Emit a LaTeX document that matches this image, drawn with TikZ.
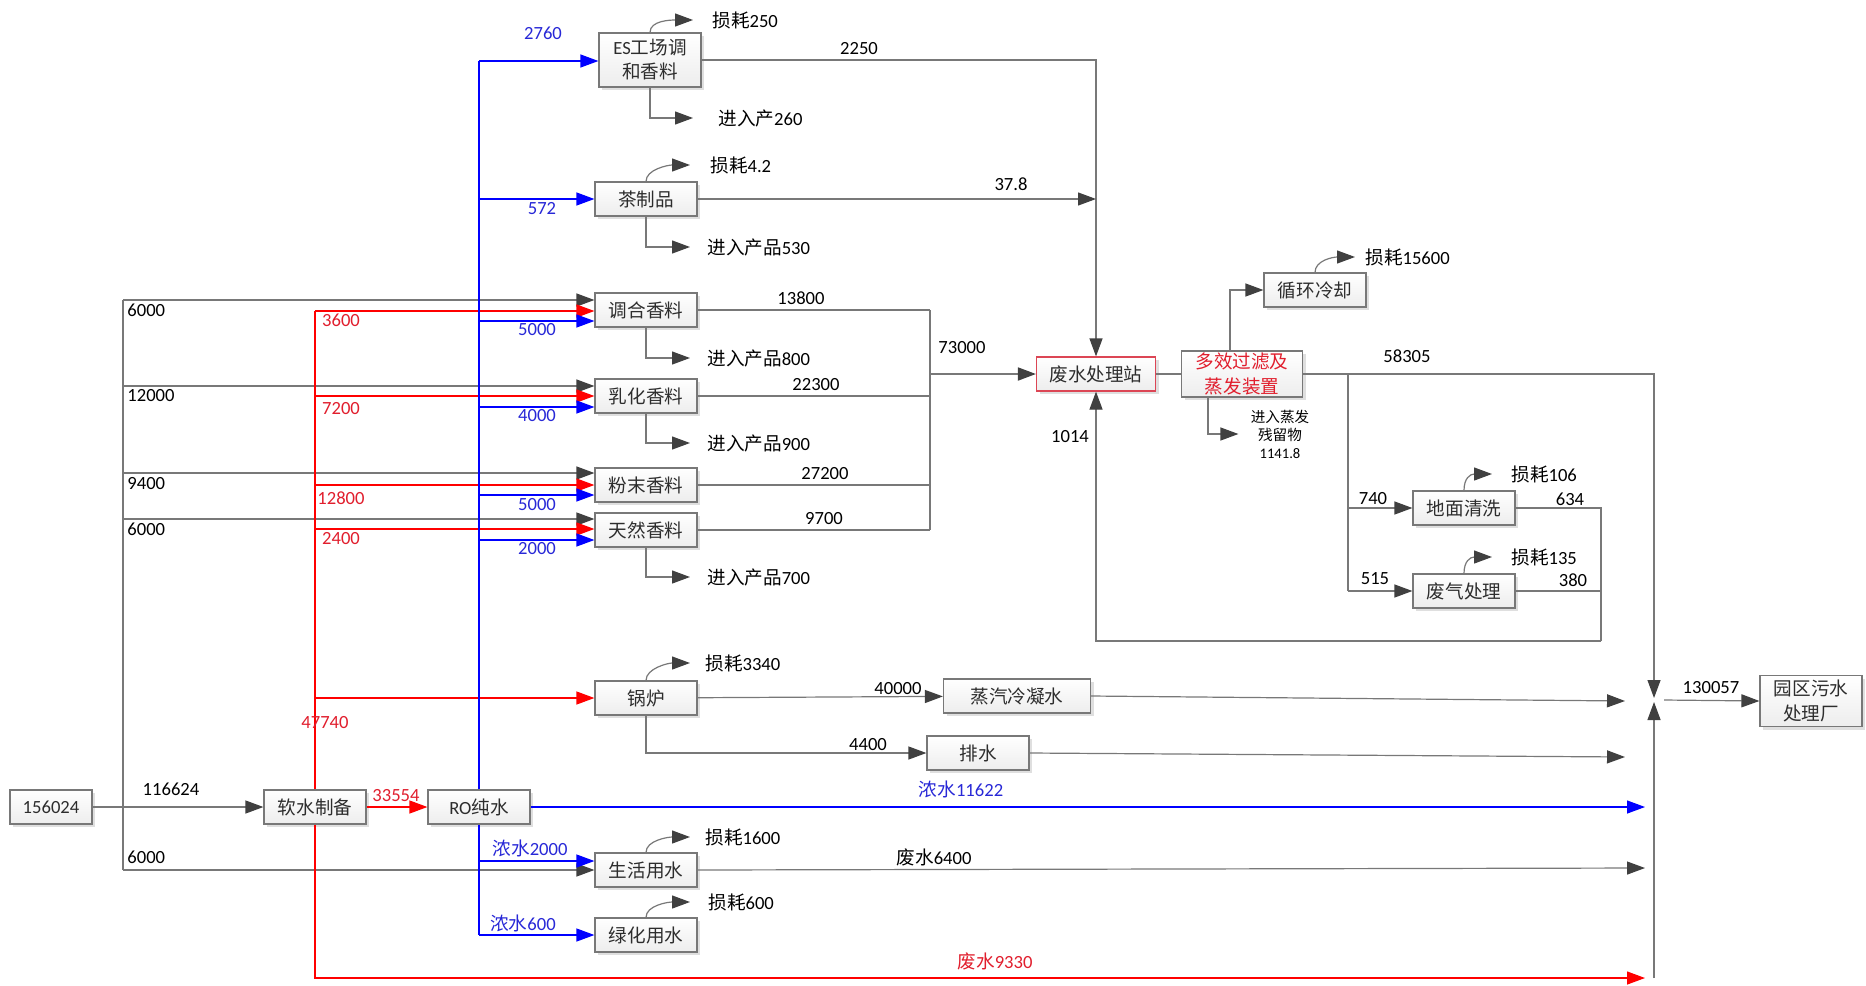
\documentclass[tikz,border=0pt]{standalone}
\usepackage{fontspec}
\setmainfont{Carlito}
\newfontfamily\cjk{Noto Sans CJK SC}
\usetikzlibrary{arrows.meta,shadows}
\definecolor{lngray}{RGB}{120,120,120}
\definecolor{tipgray}{RGB}{64,64,64}
\definecolor{txtgray}{RGB}{45,45,45}
\definecolor{flowblue}{RGB}{0,0,255}
\definecolor{flowred}{RGB}{255,0,0}
\definecolor{lblblue}{RGB}{40,40,215}
\definecolor{lblred}{RGB}{225,30,45}
\definecolor{boxred}{RGB}{220,70,85}
\newcommand{\zh}[1]{{\cjk #1}}

\begin{document}
\begin{tikzpicture}[x=0.5pt, y=-0.5pt,
  font=\fontsize{9.3}{12}\selectfont,
  box/.style={draw=lngray, line width=0.6pt, top color=white, bottom color=gray!14,
    drop shadow={shadow xshift=1.5pt, shadow yshift=-1.5pt, opacity=0.25},
    minimum width=51pt, minimum height=17pt, inner sep=0pt, align=center, text=txtgray},
  pipe/.style={draw=lngray, line width=0.6pt},
  arr/.style={pipe, -{Triangle[length=9pt, width=6.5pt, color=tipgray]}},
  barr/.style={draw=flowblue, line width=0.6pt, -{Triangle[length=9pt, width=6.5pt]}},
  rarr/.style={draw=flowred, line width=0.6pt, -{Triangle[length=9pt, width=6.5pt]}},
  num/.style={inner sep=0pt, text=black},
  bnum/.style={inner sep=0pt, text=lblblue},
  rnum/.style={inner sep=0pt, text=lblred}
]
\useasboundingbox (0,0) rectangle (1866,985);
\fill[white] (0,0) rectangle (1866,985);

\node[box, minimum width=41pt] (src) at (51,807) {156024};
\node[box] (soft) at (315,807) {\zh{软水制备}};
\node[box] (ro) at (479,807) {RO\zh{纯水}};
\node[box, minimum height=27pt] (es) at (650,60) {ES\zh{工场调}\\\zh{和香料}};
\node[box] (tea) at (646,199) {\zh{茶制品}};
\node[box] (tiao) at (646,310) {\zh{调合香料}};
\node[box] (ruhua) at (646,396) {\zh{乳化香料}};
\node[box] (fenmo) at (646,485) {\zh{粉末香料}};
\node[box] (tianran) at (646,530) {\zh{天然香料}};
\node[box] (boiler) at (646,698) {\zh{锅炉}};
\node[box] (life) at (646,870) {\zh{生活用水}};
\node[box] (green) at (646,935) {\zh{绿化用水}};
\node[box, minimum width=73.5pt] (steam) at (1017,696) {\zh{蒸汽冷凝水}};
\node[box] (drain) at (978,753) {\zh{排水}};
\node[box, draw=boxred, minimum width=59.5pt] (wwt) at (1096,374) {\zh{废水处理站}};
\node[box, minimum width=60.5pt, minimum height=23pt, text=lblred, font=\fontsize{9.3}{12.5}\selectfont] (evap) at (1242,374) {\zh{多效过滤及}\\\zh{蒸发装置}};
\node[box] (cool) at (1315,290) {\zh{循环冷却}};
\node[box] (floor) at (1464,508) {\zh{地面清洗}};
\node[box] (gas) at (1464,591) {\zh{废气处理}};
\node[box, minimum height=25.5pt, font=\fontsize{9.3}{12.5}\selectfont] (park) at (1811,701) {\zh{园区污水}\\\zh{处理厂}};

% feed water
\draw[arr] (src) -- (soft);
\draw[rarr] (soft) -- (ro);
\node[num] at (171,789) {116624};
\node[rnum] at (396,796) {33554};

% tap water
\coordinate (tapT) at (123,300);
\coordinate (tapB) at (123,870);
\draw[pipe] (tapT) -- (tapB);
\draw[arr] (tapT) -- (tiao.west |- tapT);
\foreach \y/\n in {386/ruhua, 473/fenmo, 519/tianran}
  \draw[arr] (123,\y) -- (\n.west |- 123,\y);
\draw[arr] (tapB) -- (life.west);
\foreach \y/\t in {310/6000, 396/12000, 484/9400, 529/6000, 857/6000}
  \node[num, anchor=west] at (127,\y) {\t};

% soft water
\draw[pipe, draw=flowred] (soft.north) -- (315,311);
\foreach \y/\n in {311/tiao, 396/ruhua, 485/fenmo, 529/tianran, 698/boiler}
  \draw[rarr] (315,\y) -- (\n.west |- 315,\y);
\coordinate (redEnd) at (1645,978);
\draw[rarr] (soft.south) |- (redEnd);
\foreach \y/\t in {320/3600, 409/7200, 498/12800, 539/2400}
  \node[rnum] at (341,\y) {\t};
\node[rnum] at (325,723) {47740};
\node[rnum] at (995,961) {\zh{废水}9330};

% pure water
\draw[pipe, draw=flowblue] (ro.north) -- (479,61);
\foreach \y/\n in {61/es, 199/tea, 321/tiao, 407/ruhua, 495/fenmo, 540/tianran}
  \draw[barr] (479,\y) -- (\n.west |- 479,\y);
\draw[pipe, draw=flowblue] (ro.south) -- (479,935);
\draw[barr] (479,861) -- (life.west |- 479,861);
\draw[barr] (479,935) -- (green.west);
\coordinate (blueEnd) at (1645,807);
\draw[barr] (ro.east) -- (blueEnd);
\node[bnum] at (543,33) {2760};
\node[bnum] at (542,209) {572};
\foreach \y/\t in {330/5000, 416/4000, 505/5000, 549/2000}
  \node[bnum] at (537,\y) {\t};
\node[bnum] at (530,848) {\zh{浓水}2000};
\node[bnum] at (523,923) {\zh{浓水}600};
\node[bnum] at (961,789) {\zh{浓水}11622};

% losses and products
\node[num, anchor=west] (l250) at (712,20) {\zh{损耗}250};
\node[num, anchor=west] (p260) at (718,118) {\zh{进入产}260};
\node[num, anchor=west] (l42) at (710,165) {\zh{损耗}4.2};
\node[num, anchor=west] (p530) at (707,247) {\zh{进入产品}530};
\node[num, anchor=west] (p800) at (707,358) {\zh{进入产品}800};
\node[num, anchor=west] (p900) at (707,443) {\zh{进入产品}900};
\node[num, anchor=west] (p700) at (707,577) {\zh{进入产品}700};
\node[num, anchor=west] (l3340) at (705,663) {\zh{损耗}3340};
\node[num, anchor=west] (l1600) at (705,837) {\zh{损耗}1600};
\node[num, anchor=west] (l600) at (708,902) {\zh{损耗}600};
\node[num, anchor=west] (l15600) at (1365,257) {\zh{损耗}15600};
\node[num, anchor=west] (l106) at (1511,474) {\zh{损耗}106};
\node[num, anchor=west] (l135) at (1511,557) {\zh{损耗}135};
\node[num, align=center, font=\fontsize{7.3}{9}\selectfont] (resid) at (1280,434) {\zh{进入蒸发}\\\zh{残留物}\\1141.8};

\draw[arr] (es.north) .. controls +(0,-12) and +(-22,0) .. ([xshift=-9.5pt]l250.west);
\draw[arr] (tea.north) .. controls +(0,-12) and +(-22,0) .. ([xshift=-10pt]l42.west);
\draw[arr] (boiler.north) .. controls +(0,-12) and +(-22,0) .. ([xshift=-7.5pt]l3340.west);
\draw[arr] (life.north) .. controls +(0,-12) and +(-22,0) .. ([xshift=-7.5pt]l1600.west);
\draw[arr] (green.north) .. controls +(0,-12) and +(-22,0) .. ([xshift=-9pt]l600.west);
\draw[arr] (cool.north) .. controls +(0,-12) and +(-22,0) .. ([xshift=-5pt]l15600.west);
\draw[arr] (floor.north) .. controls +(0,-12) and +(-22,0) .. ([xshift=-9.5pt]l106.west);
\draw[arr] (gas.north) .. controls +(0,-12) and +(-22,0) .. ([xshift=-9.5pt]l135.west);
\draw[arr] (es.south) |- ([xshift=-12.5pt]p260.west);
\draw[arr] (tea.south) |- ([xshift=-8.5pt]p530.west);
\draw[arr] (tiao.south) |- ([xshift=-8.5pt]p800.west);
\draw[arr] (ruhua.south) |- ([xshift=-8.5pt]p900.west);
\draw[arr] (tianran.south) |- ([xshift=-8.5pt]p700.west);

% to the waste water station
\draw[arr] (es.east) -| (wwt.north);
\draw[arr] (tea.east) -- (tea.east -| wwt.north);
\node[num] at (859,49) {2250};
\node[num] at (1011,184) {37.8};
\coordinate (col) at (930,374);
\foreach \n in {tiao, ruhua, fenmo, tianran}
  \draw[pipe] (\n.east) -- (\n.east -| col);
\draw[pipe] (tiao.east -| col) -- (tianran.east -| col);
\draw[arr, line width=0.9pt] (col) -- (wwt.west);
\node[num] at (801,298) {13800};
\node[num] at (816,385) {22300};
\node[num] at (825,474) {27200};
\node[num] at (824,519) {9700};
\node[num] at (962,348) {73000};

% treatment and reuse
\draw[pipe] (wwt) -- (evap);
\draw[arr] (1230,0 |- evap.north) |- (cool.west);
\draw[arr] (1208,0 |- evap.south) |- ([xshift=-6pt]resid.west);
\coordinate (mix) at (1654,700);
\coordinate (mixB) at (1654,978);
\draw[arr] (evap.east) -| ([yshift=1pt]mix);
\draw[arr] (mixB) -- ([yshift=-1pt]mix);
\node[num] at (1407,356) {58305};
\coordinate (br) at (1348,374);
\draw[pipe] (br) -- (br |- gas.west);
\draw[arr] (br |- floor.west) -- (floor.west);
\draw[arr] (br |- gas.west) -- (gas.west);
\node[num] at (1373,499) {740};
\node[num] at (1375,579) {515};
\coordinate (lp) at (1601,641);
\draw[pipe] (floor.east) -| (lp);
\draw[pipe] (gas.east) -- (gas.east -| lp);
\draw[arr] (lp) -| (wwt.south);
\node[num] at (1570,499) {634};
\node[num] at (1573,580) {380};
\node[num] at (1070,437) {1014};

% boiler and domestic use
\coordinate (in1) at (1625,701);
\coordinate (in2) at (1625,757);
\coordinate (in3) at (1645,868);
\draw[arr] (boiler) -- (steam);
\draw[arr] (boiler.south) |- (drain.west);
\draw[arr] (steam.east) -- (in1);
\draw[arr] (drain.east) -- (in2);
\draw[arr] (life.east) -- (in3);
\node[num] at (898,689) {40000};
\node[num] at (868,745) {4400};
\node[num] at (934,857) {\zh{废水}6400};

% discharge
\draw[arr] ([xshift=5pt]mix) -- (park.west);
\node[num] at (1711,688) {130057};
\end{tikzpicture}
\end{document}
